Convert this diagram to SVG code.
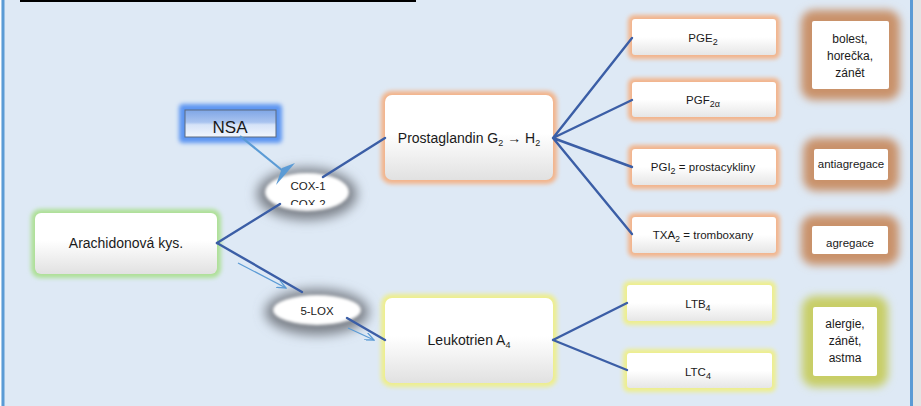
<svg xmlns="http://www.w3.org/2000/svg" width="921" height="406" viewBox="0 0 921 406">
<style>
text{font-family:"Liberation Sans",Arial,sans-serif;fill:#1a1a1a;text-anchor:middle}
.t14{font-size:14px}
.t12{font-size:12px}
.t11{font-size:11.5px}
.sub{font-size:9px}
.box{fill:url(#gw)}
.sbox{fill:url(#gs)}
.gGreen{fill:#ade096}
.gOrange{fill:#f3b48a}
.gYellow{fill:#eeee8c}
.gBrown{fill:#c9926a}
.gOlive{fill:#c8ce66}
.dark{stroke:#3b5ea6;stroke-width:2.4;fill:none;stroke-linecap:round}
.thin{stroke:#5b9bd5;stroke-width:1.3;fill:none}
.shadow{fill:#7c8189}
</style>
<defs>
<linearGradient id="gw" x1="0" y1="0" x2="0" y2="1">
<stop offset="0" stop-color="#ffffff"/><stop offset="0.45" stop-color="#ffffff"/><stop offset="1" stop-color="#e1e1e1"/>
</linearGradient>
<linearGradient id="gs" x1="0" y1="0" x2="0" y2="1">
<stop offset="0" stop-color="#ffffff"/><stop offset="0.5" stop-color="#ffffff"/><stop offset="1" stop-color="#e6e6e6"/>
</linearGradient>
<linearGradient id="gNsa" x1="0" y1="0" x2="0" y2="1">
<stop offset="0" stop-color="#7fa6e6"/><stop offset="0.45" stop-color="#a9c3ef"/><stop offset="0.55" stop-color="#d6e3f8"/><stop offset="1" stop-color="#f2f6fd"/>
</linearGradient>
<filter id="b2" x="-30%" y="-30%" width="160%" height="160%"><feGaussianBlur stdDeviation="2"/></filter>
<filter id="b4" x="-30%" y="-30%" width="160%" height="160%"><feGaussianBlur stdDeviation="4.5"/></filter>
<filter id="b5" x="-40%" y="-60%" width="180%" height="220%"><feGaussianBlur stdDeviation="6"/></filter>
<filter id="b1" x="-20%" y="-30%" width="140%" height="160%"><feGaussianBlur stdDeviation="1.5"/></filter>
<marker id="open" markerWidth="10" markerHeight="8" refX="9" refY="4" orient="auto" markerUnits="userSpaceOnUse">
<path d="M0,0 L9,4 L0,8" fill="none" stroke="#5b9bd5" stroke-width="1.3"/>
</marker>
<clipPath id="coxClip"><rect x="260" y="170" width="100" height="35"/></clipPath>
</defs>

<!-- background and frame -->
<rect x="0" y="0" width="921" height="406" fill="#dee9f5"/>
<rect x="0" y="0" width="1.5" height="406" fill="#ffffff"/>
<rect x="1.5" y="0" width="3" height="406" fill="#5b9bd5"/>
<rect x="910" y="0" width="3" height="406" fill="#5b9bd5"/>
<rect x="913" y="0" width="8" height="406" fill="#e4e4e4"/>
<rect x="20" y="0" width="396" height="2" fill="#000000"/>

<g id="node-arachidonova">
<rect class="gGreen" x="31" y="209" width="190" height="69" rx="9" filter="url(#b2)"/>
<rect class="box" x="35" y="213" width="182" height="61" rx="6"/>
<text class="t14" x="126" y="248">Arachidonová kys.</text>
</g>

<g id="node-nsa">
<rect x="179" y="104" width="103" height="39" rx="4" fill="#5d96f2" filter="url(#b2)"/>
<rect x="185" y="110" width="91" height="27" fill="url(#gNsa)" stroke="#5d6a80" stroke-width="1"/>
<text x="230" y="133" style="font-size:17px">NSA</text>
</g>

<g id="node-cox">
<ellipse class="shadow" cx="307" cy="194" rx="50" ry="26" filter="url(#b5)"/>
<ellipse cx="307" cy="192" rx="42" ry="19" fill="#ffffff" filter="url(#b1)"/>
<g clip-path="url(#coxClip)">
<text class="t11" x="308" y="190">COX-1</text>
<text class="t11" x="308" y="208">COX-2</text>
</g>
</g>

<g id="node-5lox">
<ellipse class="shadow" cx="317" cy="312" rx="52" ry="23" filter="url(#b5)"/>
<ellipse cx="317" cy="310" rx="44" ry="15" fill="#ffffff" filter="url(#b1)"/>
<text class="t11" x="317" y="315">5-LOX</text>
</g>

<g id="node-prostaglandin">
<rect class="gOrange" x="381" y="91" width="176" height="93" rx="10" filter="url(#b2)"/>
<rect class="box" x="385" y="95" width="168" height="85" rx="7"/>
<text class="t14" x="469" y="143">Prostaglandin G<tspan class="sub" dy="3">2</tspan><tspan dy="-3"> → H</tspan><tspan class="sub" dy="3">2</tspan></text>
</g>

<g id="node-leukotrien">
<rect class="gYellow" x="381" y="294" width="176" height="93" rx="10" filter="url(#b2)"/>
<rect class="box" x="385" y="298" width="168" height="85" rx="7"/>
<text class="t14" x="469" y="345">Leukotrien A<tspan class="sub" dy="3">4</tspan></text>
</g>

<g id="node-pge2">
<rect class="gOrange" x="628" y="15" width="152" height="44" rx="6" filter="url(#b2)"/>
<rect class="sbox" x="632" y="19" width="144" height="36" rx="3"/>
<text class="t11" x="703" y="42">PGE<tspan class="sub" dy="3">2</tspan></text>
</g>

<g id="node-pgf2a">
<rect class="gOrange" x="628" y="78" width="152" height="43" rx="6" filter="url(#b2)"/>
<rect class="sbox" x="632" y="82" width="144" height="35" rx="3"/>
<text class="t11" x="703" y="104">PGF<tspan class="sub" dy="3">2α</tspan></text>
</g>

<g id="node-pgi2">
<rect class="gOrange" x="628" y="145" width="152" height="44" rx="6" filter="url(#b2)"/>
<rect class="sbox" x="632" y="149" width="144" height="36" rx="3"/>
<text class="t11" x="703" y="171">PGI<tspan class="sub" dy="3">2</tspan><tspan dy="-3"> = prostacykliny</tspan></text>
</g>

<g id="node-txa2">
<rect class="gOrange" x="628" y="213" width="152" height="44" rx="6" filter="url(#b2)"/>
<rect class="sbox" x="632" y="217" width="144" height="36" rx="3"/>
<text class="t11" x="703" y="239">TXA<tspan class="sub" dy="3">2</tspan><tspan dy="-3"> = tromboxany</tspan></text>
</g>

<g id="node-bolest">
<rect class="gBrown" x="801" y="10" width="99" height="90" rx="13" filter="url(#b4)"/>
<rect x="812" y="21" width="77" height="68" rx="2" fill="#ffffff"/>
<text class="t12" x="850" y="43">bolest,</text>
<text class="t12" x="850" y="60">horečka,</text>
<text class="t12" x="850" y="77">zánět</text>
</g>

<g id="node-antiagregace">
<rect class="gBrown" x="803" y="138" width="96" height="53" rx="13" filter="url(#b4)"/>
<rect x="814" y="149" width="74" height="31" rx="2" fill="#ffffff"/>
<text class="t11" x="851" y="168">antiagregace</text>
</g>

<g id="node-agregace">
<rect class="gBrown" x="801" y="215" width="98" height="50" rx="13" filter="url(#b4)"/>
<rect x="812" y="226" width="76" height="28" rx="2" fill="#ffffff"/>
<text class="t11" x="850" y="247">agregace</text>
</g>

<g id="node-ltb4">
<rect class="gYellow" x="623" y="281" width="153" height="44" rx="6" filter="url(#b2)"/>
<rect class="sbox" x="627" y="285" width="145" height="36" rx="3"/>
<text class="t11" x="698" y="308">LTB<tspan class="sub" dy="3">4</tspan></text>
</g>

<g id="node-ltc4">
<rect class="gYellow" x="623" y="349" width="153" height="43" rx="6" filter="url(#b2)"/>
<rect class="sbox" x="627" y="353" width="145" height="35" rx="3"/>
<text class="t11" x="698" y="376">LTC<tspan class="sub" dy="3">4</tspan></text>
</g>

<g id="node-alergie">
<rect class="gOlive" x="802" y="296" width="86" height="91" rx="13" filter="url(#b4)"/>
<rect x="813" y="307" width="64" height="69" rx="2" fill="#ffffff"/>
<text class="t12" x="845" y="328">alergie,</text>
<text class="t12" x="845" y="345">zánět,</text>
<text class="t12" x="845" y="362">astma</text>
</g>

<g id="connectors">
<path class="dark" d="M217,243 L280,204 M323,177 L385,138"/>
<path class="dark" d="M217,243 L302,292 M347,318 L385,340"/>
<path class="dark" d="M553,138 L632,38 M553,138 L632,100 M553,138 L632,167 M553,138 L632,234"/>
<path class="dark" d="M553,340 L627,303 M553,340 L627,370"/>
<line x1="240" y1="136" x2="283" y2="171" stroke="#5b9bd5" stroke-width="2.2"/>
<polygon points="276,185 282,168 295,163" fill="#5b9bd5"/>
<line class="thin" x1="238" y1="263" x2="286" y2="288" marker-end="url(#open)"/>
<line class="thin" x1="348" y1="328" x2="374" y2="340" marker-end="url(#open)"/>
</g>
</svg>
